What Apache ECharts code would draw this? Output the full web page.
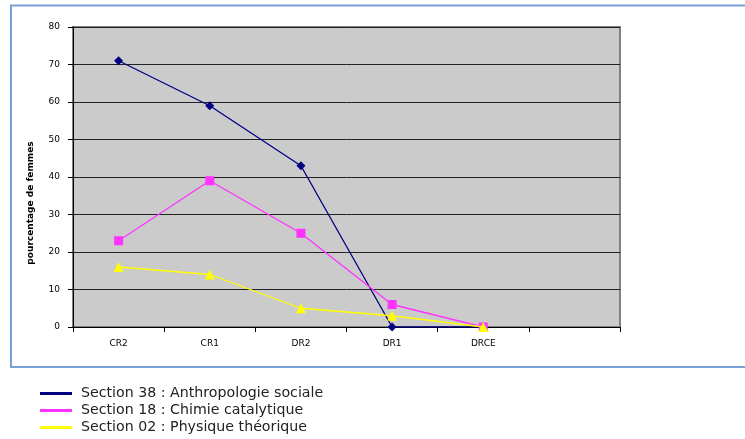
<!DOCTYPE html>
<html>
<head>
<meta charset="utf-8">
<script src="https://cdn.jsdelivr.net/npm/echarts@6/dist/echarts.min.js"></script>
<style>html,body{margin:0;padding:0;background:#fff;}#c{width:745px;height:439px;}</style>
</head>
<body>
<div id="c"></div>
<script>
const categories = ['CR2', 'CR1', 'DR2', 'DR1', 'DRCE', ''];
const section38 = [71, 59, 43, 0, 0, null];
const section18 = [23, 39, 25, 6, 0, null];
const section02 = [16, 14, 5, 3, 0, null];
const seriesNames = ['Section 38 : Anthropologie sociale', 'Section 18 : Chimie catalytique', 'Section 02 : Physique théorique'];
const yTicks = { min: 0, max: 80, interval: 10 };

const chart = echarts.init(document.getElementById('c'), null, { renderer: 'canvas' });
const font = 'DejaVu Sans, Verdana, sans-serif';
chart.setOption({
  animation: false,
  backgroundColor: '#fff',
  graphic: [{
    type: 'rect',
    shape: { x: 11, y: 5.5, width: 740, height: 361.5 },
    style: { fill: 'none', stroke: '#7aa0d8', lineWidth: 2 },
    z: -1
  }],
  grid: {
    left: 73, top: 27, right: 125, bottom: 112,
    show: true, backgroundColor: '#cbcbcb', borderColor: '#808080', borderWidth: 2
  },
  legend: {
    orient: 'vertical', left: 40, top: 386, height: 53,
    itemWidth: 32, itemHeight: 3, itemGap: 2, padding: 0,
    icon: 'rect',
    textStyle: { fontFamily: font, fontSize: 14.2, color: '#222', lineHeight: 15, padding: [0, 0, 0, 4] },
    data: seriesNames.map(n => ({ name: n, icon: 'rect' }))
  },
  xAxis: {
    type: 'category', data: categories, boundaryGap: true,
    axisLine: { lineStyle: { color: '#000', width: 1 } },
    axisTick: { show: true, length: 5, inside: false, lineStyle: { color: '#000' } },
    axisLabel: { fontFamily: font, fontSize: 9, color: '#000', margin: 12 },
    splitLine: { show: false }
  },
  yAxis: {
    type: 'value', min: yTicks.min, max: yTicks.max, interval: yTicks.interval,
    name: 'pourcentage de femmes', nameLocation: 'middle', nameGap: 38, nameRotate: 90,
    nameTextStyle: { fontFamily: font, fontSize: 9, fontWeight: 'bold', color: '#000', padding: [0, 0, 0, -52] },
    axisLine: { show: true, lineStyle: { color: '#000', width: 1 } },
    axisTick: { show: true, length: 5, lineStyle: { color: '#000' } },
    axisLabel: { fontFamily: font, fontSize: 9, color: '#000', margin: 13 },
    splitLine: { show: true, lineStyle: { color: '#222', width: 1 } }
  },
  series: [
    { name: seriesNames[0], type: 'line', data: section38, symbol: 'diamond', symbolSize: 9,
      itemStyle: { color: '#000080' }, lineStyle: { color: '#000080', width: 1.3 }, z: 3 },
    { name: seriesNames[1], type: 'line', data: section18, symbol: 'rect', symbolSize: 9,
      itemStyle: { color: '#ff33ff' }, lineStyle: { color: '#ff33ff', width: 1.3 }, z: 4 },
    { name: seriesNames[2], type: 'line', data: section02, symbol: 'triangle', symbolSize: 10,
      itemStyle: { color: '#ffff00' }, lineStyle: { color: '#ffff00', width: 1.3 }, z: 5 }
  ]
});
</script>
</body>
</html>
